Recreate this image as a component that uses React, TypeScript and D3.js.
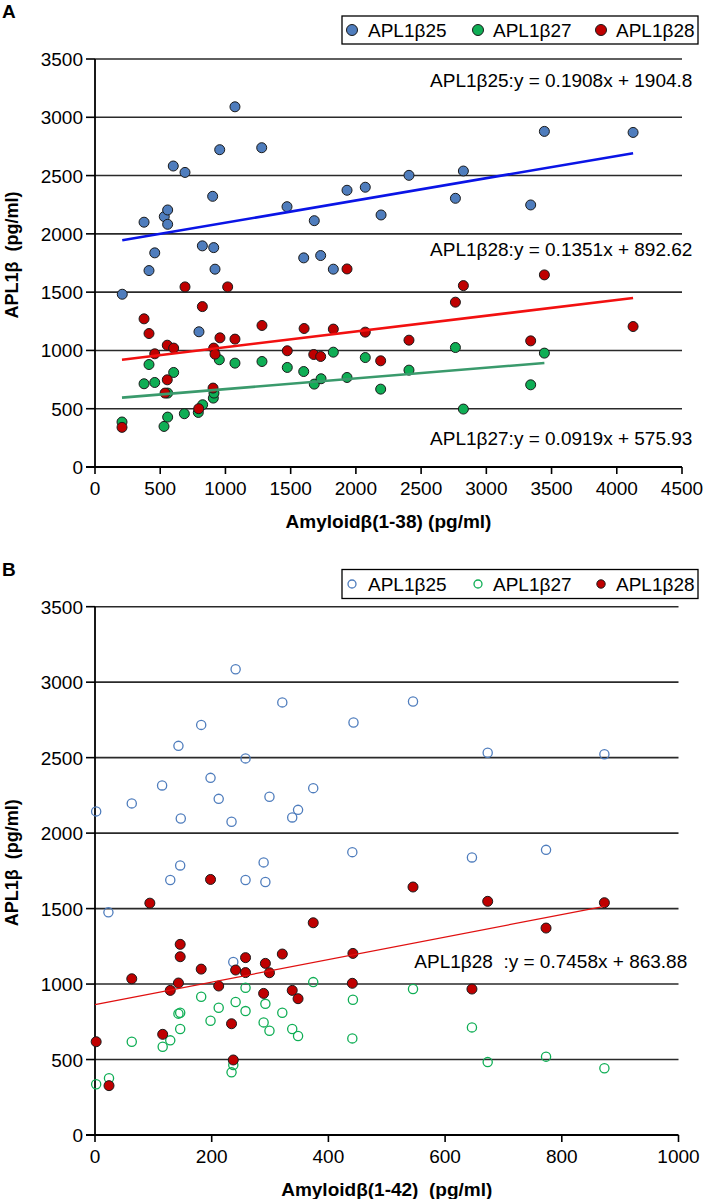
import React from 'react';
import * as d3 from 'd3';

type Pt = [number, number];

// Panel A: Amyloidβ(1-38) vs APL1β
const a38_APL1b25: Pt[] = [
  [209, 1482], [376, 2100], [414, 1685], [458, 1837], [531, 2148], [557, 2205], [557, 2082],
  [600, 2582], [690, 2527], [797, 1160], [823, 1897], [902, 2322], [910, 1882], [920, 1697],
  [956, 2722], [1073, 3090], [1278, 2739], [1472, 2233], [1600, 1794], [1681, 2113], [1730, 1814],
  [1827, 1697], [1932, 2374], [2072, 2400], [2193, 2162], [2407, 2502], [2763, 2305], [2824, 2539],
  [3340, 2248], [3445, 2879], [4125, 2870],
];
const a38_APL1b27: Pt[] = [
  [207, 386], [376, 714], [414, 879], [458, 725], [529, 348], [557, 428], [557, 634], [603, 811],
  [685, 457], [792, 468], [825, 534], [907, 591], [912, 634], [953, 920], [1073, 891], [1280, 905],
  [1474, 854], [1600, 819], [1681, 711], [1733, 757], [1827, 985], [1932, 768], [2072, 939],
  [2190, 668], [2407, 831], [2763, 1025], [2824, 497], [3340, 705], [3445, 977],
];
const a38_APL1b28: Pt[] = [
  [207, 340], [376, 1271], [414, 1145], [458, 971], [537, 634], [554, 748], [554, 1045], [603, 1020],
  [690, 1545], [795, 500], [823, 1376], [905, 677], [910, 1020], [920, 968], [958, 1108], [1017, 1545],
  [1073, 1097], [1280, 1214], [1474, 997], [1603, 1188], [1677, 965], [1730, 948], [1827, 1183],
  [1932, 1699], [2072, 1157], [2190, 911], [2407, 1088], [2763, 1414], [2824, 1556], [3340, 1082],
  [3445, 1648], [4125, 1205],
];

// Panel B: Amyloidβ(1-42) vs APL1β
const a42_APL1b25: Pt[] = [
  [2, 2144], [23, 1475], [63, 2197], [115, 2316], [129, 1689], [143, 2578], [146, 1786], [147, 2097],
  [182, 2717], [198, 2366], [212, 2227], [234, 2075], [237, 1146], [241, 3086], [258, 2495], [258, 1689],
  [289, 1806], [292, 1676], [299, 2241], [321, 2866], [338, 2104], [348, 2154], [374, 2298], [441, 1874],
  [443, 2733], [545, 2872], [646, 1839], [673, 2532], [773, 1889], [873, 2523],
];
const a42_APL1b27: Pt[] = [
  [2, 336], [24, 376], [63, 618], [116, 585], [129, 627], [143, 804], [146, 810], [146, 702], [182, 916],
  [198, 757], [212, 843], [234, 415], [237, 464], [241, 881], [258, 976], [258, 821], [289, 746],
  [292, 869], [299, 691], [321, 810], [338, 702], [348, 656], [374, 1013], [441, 640], [442, 896],
  [545, 967], [646, 713], [673, 483], [773, 519], [873, 442],
];
const a42_APL1b28: Pt[] = [
  [2, 618], [24, 327], [63, 1035], [94, 1536], [116, 667], [129, 958], [143, 1007], [146, 1263],
  [146, 1181], [182, 1099], [198, 1693], [212, 987], [234, 737], [237, 497], [241, 1093], [258, 1175],
  [258, 1076], [289, 938], [292, 1137], [299, 1075], [321, 1199], [338, 958], [348, 903], [374, 1406],
  [441, 1005], [442, 1203], [545, 1643], [646, 967], [673, 1548], [773, 1371], [873, 1539],
];

const seriesNames = ['APL1β25', 'APL1β27', 'APL1β28'];
const yTicks = [0, 500, 1000, 1500, 2000, 2500, 3000, 3500];
const xTicksA = [0, 500, 1000, 1500, 2000, 2500, 3000, 3500, 4000, 4500];
const xTicksB = [0, 200, 400, 600, 800, 1000];

// regression fits printed on the chart: [slope, intercept]
const fitA25: Pt = [0.1908, 1904.8];
const fitA27: Pt = [0.0919, 575.93];
const fitA28: Pt = [0.1351, 892.62];
const fitB28: Pt = [0.7458, 863.88];

const FONT = "'Liberation Sans', Arial, Helvetica, sans-serif";
const BLUE = '#4f7dbd';
const GREEN = '#0fae55';
const RED = '#bf0000';

interface SeriesDef {
  data: Pt[];
  fill: string;
  stroke: string;
  r: number;
  sw: number;
}

interface FitDef {
  fit: Pt;
  extent: [number, number];
  color: string;
  width: number;
}

interface LabelDef {
  text: string;
  x: number;
  y: number;
}

interface PanelProps {
  letter: string;
  top: number;
  xDomain: [number, number];
  xRange: [number, number];
  yRange: [number, number];
  xTicks: number[];
  xTitle: string;
  series: SeriesDef[];
  fits: FitDef[];
  labels: LabelDef[];
  legend: { fill: string; stroke: string; r: number; sw: number }[];
  legendY: [number, number];
}

const Panel: React.FC<PanelProps> = (p) => {
  const x = d3.scaleLinear().domain(p.xDomain).range(p.xRange);
  const y = d3.scaleLinear().domain([0, 3500]).range(p.yRange);
  const [x0, x1] = p.xRange;
  const [yb, yt] = p.yRange;
  const line = d3.line<Pt>().x(d => x(d[0])).y(d => y(d[1]));
  const legendItems = [
    { mx: 352, tx: 368 },
    { mx: 478, tx: 493 },
    { mx: 601, tx: 616 },
  ];
  const ly = (p.legendY[0] + p.legendY[1]) / 2;

  return (
    <g>
      <text x={2} y={p.top + 18} fontSize={19} fontWeight="bold" fontFamily={FONT}>{p.letter}</text>

      {/* grid */}
      {yTicks.filter(t => t > 0).map(t => (
        <line key={'g' + t} x1={x0} x2={x1} y1={y(t)} y2={y(t)} stroke="#2a2a2a" strokeWidth={1.6} />
      ))}

      {/* axes */}
      <line x1={x0} x2={x0} y1={yt} y2={yb} stroke="#000" strokeWidth={1.8} />
      <line x1={x0 - 9} x2={x1} y1={yb} y2={yb} stroke="#000" strokeWidth={1.8} />
      {yTicks.map(t => (
        <g key={'y' + t}>
          <line x1={x0 - 9} x2={x0} y1={y(t)} y2={y(t)} stroke="#000" strokeWidth={1.6} />
          <text x={x0 - 12} y={y(t) + 7} textAnchor="end" fontSize={19} fontFamily={FONT}>{t}</text>
        </g>
      ))}
      {p.xTicks.map(t => (
        <g key={'x' + t}>
          <line x1={x(t)} x2={x(t)} y1={yb} y2={yb + 7} stroke="#000" strokeWidth={1.6} />
          <text x={x(t)} y={yb + 28} textAnchor="middle" fontSize={19} fontFamily={FONT}>{t}</text>
        </g>
      ))}

      <text x={(x0 + x1) / 2} y={yb + 61} textAnchor="middle" fontSize={19} fontWeight="bold"
        fontFamily={FONT} style={{ whiteSpace: 'pre' }}>{p.xTitle}</text>
      <text transform={`translate(18,${(yb + yt) / 2 - 8}) rotate(-90)`} textAnchor="middle" fontSize={18}
        fontWeight="bold" fontFamily={FONT} style={{ whiteSpace: 'pre' }}>{'APL1β  (pg/ml)'}</text>

      {/* points */}
      {p.series.map((s, i) => (
        <g key={'s' + i}>
          {s.data.map((d, j) => (
            <circle key={j} cx={x(d[0])} cy={y(d[1])} r={s.r} fill={s.fill} stroke={s.stroke} strokeWidth={s.sw} />
          ))}
        </g>
      ))}

      {/* trend lines */}
      {p.fits.map((f, i) => (
        <path key={'f' + i}
          d={line(f.extent.map(v => [v, f.fit[0] * v + f.fit[1]] as Pt)) || ''}
          fill="none" stroke={f.color} strokeWidth={f.width} />
      ))}

      {p.labels.map((l, i) => (
        <text key={'l' + i} x={x(l.x)} y={y(l.y)} textAnchor="end" fontSize={19} fontFamily={FONT}
          style={{ whiteSpace: 'pre' }}>{l.text}</text>
      ))}

      {/* legend */}
      <rect x={342} y={p.legendY[0]} width={356} height={p.legendY[1] - p.legendY[0]} fill="#fff" stroke="#000" strokeWidth={1.3} />
      {seriesNames.map((n, i) => (
        <g key={'lg' + i}>
          <circle cx={legendItems[i].mx} cy={ly} r={p.legend[i].r} fill={p.legend[i].fill}
            stroke={p.legend[i].stroke} strokeWidth={p.legend[i].sw} />
          <text x={legendItems[i].tx} y={ly + 7} fontSize={19} fontFamily={FONT}>{n}</text>
        </g>
      ))}
    </g>
  );
};

const ext = (d: Pt[]) => d3.extent(d, v => v[0]) as [number, number];

export default function App() {
  return (
    <svg width={704} height={1199} style={{ position: 'absolute', left: 0, top: 0, background: '#fff' }}>
      <rect width={704} height={1199} fill="#fff" />
      <Panel
        letter="A"
        top={0}
        xDomain={[0, 4500]}
        xRange={[95, 682]}
        yRange={[467, 59]}
        xTicks={xTicksA}
        xTitle="Amyloidβ(1-38) (pg/ml)"
        series={[
          { data: a38_APL1b25, fill: BLUE, stroke: '#1a1a1a', r: 5, sw: 1 },
          { data: a38_APL1b27, fill: GREEN, stroke: '#1a1a1a', r: 5, sw: 1 },
          { data: a38_APL1b28, fill: RED, stroke: '#1a1a1a', r: 5, sw: 1 },
        ]}
        fits={[
          { fit: fitA25, extent: ext(a38_APL1b25), color: '#0a14e6', width: 2.6 },
          { fit: fitA28, extent: ext(a38_APL1b28), color: '#f21010', width: 2.6 },
          { fit: fitA27, extent: ext(a38_APL1b27), color: '#3a9a6c', width: 2.6 },
        ]}
        labels={[
          { text: 'APL1β25:y = 0.1908x + 1904.8', x: 4580, y: 3262 },
          { text: 'APL1β28:y = 0.1351x + 892.62', x: 4580, y: 1812 },
          { text: 'APL1β27:y = 0.0919x + 575.93', x: 4580, y: 192 },
        ]}
        legend={[
          { fill: BLUE, stroke: '#1a1a1a', r: 5.5, sw: 1 },
          { fill: GREEN, stroke: '#1a1a1a', r: 5.5, sw: 1 },
          { fill: RED, stroke: '#1a1a1a', r: 5.5, sw: 1 },
        ]}
        legendY={[16, 44]}
      />
      <Panel
        letter="B"
        top={558}
        xDomain={[0, 1000]}
        xRange={[95, 678.5]}
        yRange={[1135, 606.7]}
        xTicks={xTicksB}
        xTitle="Amyloidβ(1-42)  (pg/ml)"
        series={[
          { data: a42_APL1b25, fill: 'none', stroke: BLUE, r: 4.6, sw: 1.3 },
          { data: a42_APL1b27, fill: 'none', stroke: GREEN, r: 4.6, sw: 1.3 },
          { data: a42_APL1b28, fill: RED, stroke: '#1a1a1a', r: 5, sw: 1 },
        ]}
        fits={[
          { fit: fitB28, extent: [0, d3.max(a42_APL1b28, d => d[0]) as number], color: '#e01010', width: 1.3 },
        ]}
        labels={[
          { text: 'APL1β28  :y = 0.7458x + 863.88', x: 1015, y: 1104 },
        ]}
        legend={[
          { fill: 'none', stroke: BLUE, r: 4, sw: 1.3 },
          { fill: 'none', stroke: GREEN, r: 4, sw: 1.3 },
          { fill: RED, stroke: '#1a1a1a', r: 4.2, sw: 1 },
        ]}
        legendY={[569.5, 598.5]}
      />
    </svg>
  );
}
